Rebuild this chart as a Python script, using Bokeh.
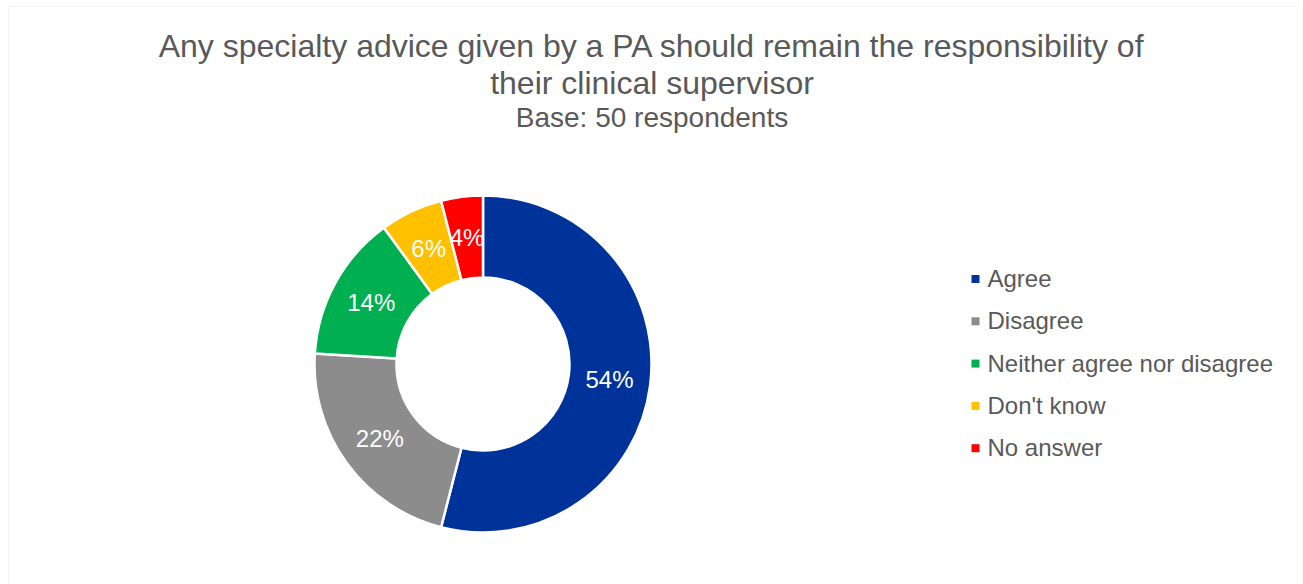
import math
from bokeh.plotting import figure
from bokeh.models import Range1d, ColumnDataSource, BoxAnnotation, Label
from bokeh.core.properties import value
from bokeh.embed import file_html
from bokeh.resources import INLINE

# ---- data ----
categories = ["Agree", "Disagree", "Neither agree nor disagree", "Don't know", "No answer"]
percents = [54, 22, 14, 6, 4]
colors = ["#003399", "#8C8C8C", "#00B050", "#FFC000", "#FF0000"]
title_lines = ["Any specialty advice given by a PA should remain the responsibility of",
               "their clinical supervisor"]
subtitle = "Base: 50 respondents"

W, H = 1303, 584
FONT = "Liberation Sans"
TXT = "#595959"

p = figure(width=W, height=H, output_backend="svg", toolbar_location=None,
           x_range=Range1d(0, W), y_range=Range1d(0, H), min_border=0)
p.axis.visible = False
p.grid.visible = False
p.outline_line_color = None
p.background_fill_color = "white"
p.border_fill_color = "white"

# chart border
p.add_layout(BoxAnnotation(left=8, right=1297, top=H - 6, bottom=-10,
                           fill_color=None, line_color="#D9D9D9", line_width=1))

# donut geometry (pixel units, y up)
cx, cy = 482.5, H - 363.5
r_out, r_in = 168.5, 86.5

total = sum(percents)
starts, ends, lx, ly, labels = [], [], [], [], []
cum = 0
for v in percents:
    a0 = math.pi / 2 - 2 * math.pi * cum / total
    a1 = math.pi / 2 - 2 * math.pi * (cum + v) / total
    starts.append(a0)
    ends.append(a1)
    mid = (a0 + a1) / 2
    rm = (r_out + r_in) / 2
    lx.append(cx + rm * math.cos(mid))
    ly.append(cy + rm * math.sin(mid))
    labels.append(f"{v}%")
    cum += v

src = ColumnDataSource(dict(cat=categories, start=starts, end=ends, color=colors,
                            lx=lx, ly=ly, label=labels))
p.annular_wedge(x=cx, y=cy, inner_radius=r_in, outer_radius=r_out,
                start_angle="start", end_angle="end", direction="clock",
                fill_color="color", line_color="white", line_width=2.5, source=src)
p.text(x="lx", y="ly", text="label", source=src, text_color="white",
       text_font=value(FONT), text_font_size="24px",
       text_align="center", text_baseline="middle")

# legend (manual)
leg_x_marker, leg_x_text = 975, 987
row0, row_step = 278.5, 42.3
leg_y = [H - (row0 + i * row_step) for i in range(len(categories))]
lsrc = ColumnDataSource(dict(y=leg_y, cat=categories, color=colors,
                             yb=[y + 0.5 for y in leg_y]))
p.rect(x=leg_x_marker, y="y", width=8, height=8, fill_color="color",
       line_color=None, source=lsrc)
p.text(x=leg_x_text, y="yb", text="cat", source=lsrc, text_color=TXT,
       text_font=value(FONT), text_font_size="24px",
       text_align="left", text_baseline="alphabetic")

# titles
for txt, base, size in [(title_lines[0], 45, "32px"), (title_lines[1], 82, "32px"),
                        (subtitle, 117, "28px")]:
    p.add_layout(Label(x=W / 2, y=H - base, text=txt, text_align="center",
                       text_baseline="alphabetic", text_font=FONT,
                       text_font_size=size, text_color=TXT))

open("out.html", "w").write(file_html(p, INLINE))
